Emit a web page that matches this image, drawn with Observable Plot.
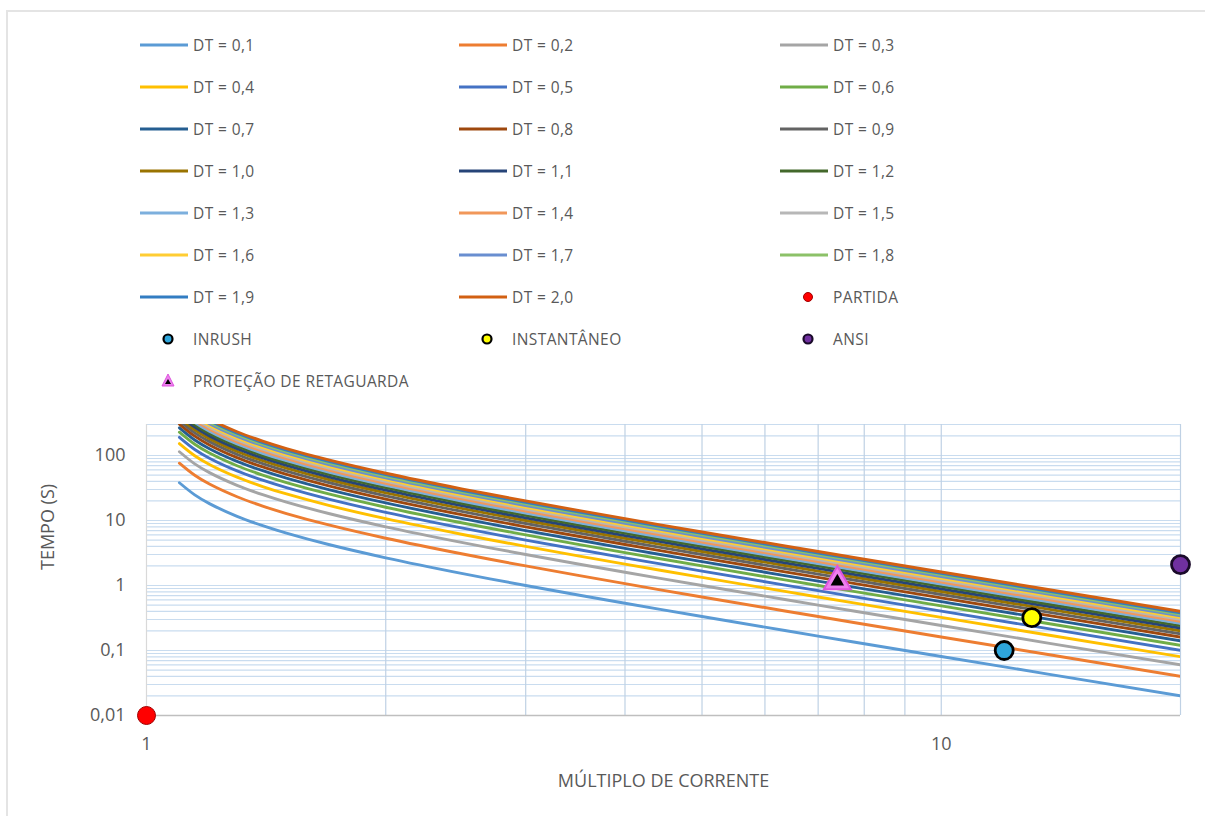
<!DOCTYPE html>
<html>
<head>
<meta charset="utf-8">
<script src="https://cdn.jsdelivr.net/npm/d3@7"></script>
<script src="https://cdn.jsdelivr.net/npm/@observablehq/plot@0.6"></script>
<style>
  body { margin: 0; background: #fff; font-family: "Open Sans", sans-serif; }
  #chart { position: relative; width: 1205px; height: 816px; overflow: hidden; background: #fff; }
  #frame { position: absolute; left: 6px; top: 10px; width: 1300px; height: 900px;
           border-left: 2px solid #e4e4e4; border-top: 2px solid #e4e4e4; }
  #legend { position: absolute; left: 0; top: 0; width: 1205px; height: 400px; }
  .item { position: absolute; height: 24px; }
  .item svg { position: absolute; top: 0; overflow: visible; }
  .item span { position: absolute; top: 0; line-height: 24px; font-size: 15.5px;
               letter-spacing: 0.4px; color: #595959; white-space: nowrap; }
  #plot { position: absolute; left: 0; top: 400px; }
</style>
</head>
<body>
<div id="chart">
  <div id="frame"></div>
  <div id="legend"></div>
  <div id="plot"></div>
</div>
<script>
// Current multiples (x) at which each time-dial curve is sampled
const multiples = [1.1, 1.15, 1.2, 1.3, 1.4, 1.5, 1.7, 2, 2.5, 3, 4, 5, 7, 10, 20];

// Operating time (s) of each curve at the multiples above
const dt01 = [38.1, 24.81, 18.18, 11.59, 8.333, 6.4, 4.233, 2.667, 1.524, 1.0, 0.5333, 0.3333, 0.1667, 0.0808, 0.0201];
const dt02 = [76.19, 49.61, 36.36, 23.19, 16.67, 12.8, 8.466, 5.333, 3.048, 2.0, 1.067, 0.6667, 0.3333, 0.1616, 0.0401];
const dt03 = [114.3, 74.42, 54.55, 34.78, 25.0, 19.2, 12.7, 8.0, 4.571, 3.0, 1.6, 1.0, 0.5, 0.2424, 0.0602];
const dt04 = [152.4, 99.22, 72.73, 46.38, 33.33, 25.6, 16.93, 10.67, 6.095, 4.0, 2.133, 1.333, 0.6667, 0.3232, 0.0802];
const dt05 = [190.5, 124.0, 90.91, 57.97, 41.67, 32.0, 21.16, 13.33, 7.619, 5.0, 2.667, 1.667, 0.8333, 0.404, 0.1003];
const dt06 = [228.6, 148.8, 109.1, 69.57, 50.0, 38.4, 25.4, 16.0, 9.143, 6.0, 3.2, 2.0, 1.0, 0.4848, 0.1203];
const dt07 = [266.7, 173.6, 127.3, 81.16, 58.33, 44.8, 29.63, 18.67, 10.67, 7.0, 3.733, 2.333, 1.167, 0.5657, 0.1404];
const dt08 = [304.8, 198.4, 145.5, 92.75, 66.67, 51.2, 33.86, 21.33, 12.19, 8.0, 4.267, 2.667, 1.333, 0.6465, 0.1604];
const dt09 = [342.9, 223.3, 163.6, 104.3, 75.0, 57.6, 38.1, 24.0, 13.71, 9.0, 4.8, 3.0, 1.5, 0.7273, 0.1805];
const dt10 = [381.0, 248.1, 181.8, 115.9, 83.33, 64.0, 42.33, 26.67, 15.24, 10.0, 5.333, 3.333, 1.667, 0.8081, 0.2005];
const dt11 = [419.0, 272.9, 200.0, 127.5, 91.67, 70.4, 46.56, 29.33, 16.76, 11.0, 5.867, 3.667, 1.833, 0.8889, 0.2206];
const dt12 = [457.1, 297.7, 218.2, 139.1, 100.0, 76.8, 50.79, 32.0, 18.29, 12.0, 6.4, 4.0, 2.0, 0.9697, 0.2406];
const dt13 = [495.2, 322.5, 236.4, 150.7, 108.3, 83.2, 55.03, 34.67, 19.81, 13.0, 6.933, 4.333, 2.167, 1.051, 0.2607];
const dt14 = [533.3, 347.3, 254.5, 162.3, 116.7, 89.6, 59.26, 37.33, 21.33, 14.0, 7.467, 4.667, 2.333, 1.131, 0.2807];
const dt15 = [571.4, 372.1, 272.7, 173.9, 125.0, 96.0, 63.49, 40.0, 22.86, 15.0, 8.0, 5.0, 2.5, 1.212, 0.3008];
const dt16 = [609.5, 396.9, 290.9, 185.5, 133.3, 102.4, 67.72, 42.67, 24.38, 16.0, 8.533, 5.333, 2.667, 1.293, 0.3208];
const dt17 = [647.6, 421.7, 309.1, 197.1, 141.7, 108.8, 71.96, 45.33, 25.9, 17.0, 9.067, 5.667, 2.833, 1.374, 0.3409];
const dt18 = [685.7, 446.5, 327.3, 208.7, 150.0, 115.2, 76.19, 48.0, 27.43, 18.0, 9.6, 6.0, 3.0, 1.455, 0.3609];
const dt19 = [723.8, 471.3, 345.5, 220.3, 158.3, 121.6, 80.42, 50.67, 28.95, 19.0, 10.13, 6.333, 3.167, 1.535, 0.381];
const dt20 = [761.9, 496.1, 363.6, 231.9, 166.7, 128.0, 84.66, 53.33, 30.48, 20.0, 10.67, 6.667, 3.333, 1.616, 0.401];

const curveNames = ["DT = 0,1", "DT = 0,2", "DT = 0,3", "DT = 0,4", "DT = 0,5", "DT = 0,6", "DT = 0,7",
  "DT = 0,8", "DT = 0,9", "DT = 1,0", "DT = 1,1", "DT = 1,2", "DT = 1,3", "DT = 1,4", "DT = 1,5",
  "DT = 1,6", "DT = 1,7", "DT = 1,8", "DT = 1,9", "DT = 2,0"];
const curveValues = [dt01, dt02, dt03, dt04, dt05, dt06, dt07, dt08, dt09, dt10,
  dt11, dt12, dt13, dt14, dt15, dt16, dt17, dt18, dt19, dt20];
const curveColors = ["#5b9bd5", "#ed7d31", "#a5a5a5", "#ffc000", "#4472c4", "#70ad47", "#255e91",
  "#9e480e", "#636363", "#997300", "#264478", "#43682b", "#7cafdd", "#f1975a", "#b7b7b7",
  "#ffcd33", "#698ed0", "#8cc168", "#327dc2", "#d26012"];

// Protection points
const pointNames = ["PARTIDA", "INRUSH", "INSTANTÂNEO", "ANSI", "PROTEÇÃO DE RETAGUARDA"];
const pointX = [1, 12, 13, 20, 7.4];
const pointY = [0.01, 0.1, 0.32, 2.1, 1.15];
const pointFill = ["#ff0000", "#2ea6dc", "#ffff00", "#7030a0", "#ee7fee"];
const pointStroke = ["#a00000", "#000000", "#000000", "#1a0a2a", "#dd55dd"];
const pointSymbol = ["circle", "circle", "circle", "circle", "triangle"];

// Axis ticks and log gridlines
const xTicks = [1, 10];
const yTicks = [0.01, 0.1, 1, 10, 100];
const xGrid = [2, 3, 4, 5, 6, 7, 8, 9, 10, 20];
const yGrid = [0.02, 0.03, 0.04, 0.05, 0.06, 0.07, 0.08, 0.09, 0.1,
  0.2, 0.3, 0.4, 0.5, 0.6, 0.7, 0.8, 0.9, 1,
  2, 3, 4, 5, 6, 7, 8, 9, 10,
  20, 30, 40, 50, 60, 70, 80, 90, 100, 200, 300];

// Long table for the curves
const curveRows = curveNames.flatMap((name, i) =>
  multiples.map((m, j) => ({name, color: curveColors[i], m, t: curveValues[i][j]})));
const pointRows = pointNames.map((name, i) => ({
  name, x: pointX[i], y: pointY[i], fill: pointFill[i], stroke: pointStroke[i], symbol: pointSymbol[i]
}));

// ---------- legend (three columns, above the plot) ----------
const legend = document.getElementById("legend");
const colX = [140, 459, 780];
const legendItems = [
  ...curveNames.map((name, i) => ({name, kind: "line", color: curveColors[i]})),
  ...pointRows.map(p => ({name: p.name, kind: p.symbol, fill: p.fill, stroke: p.stroke}))
];
const ns = "http://www.w3.org/2000/svg";
legendItems.forEach((it, i) => {
  const col = i % 3, row = Math.floor(i / 3);
  const div = document.createElement("div");
  div.className = "item";
  div.style.left = colX[col] + "px";
  div.style.top = (45 + 42 * row - 12) + "px";
  const svg = document.createElementNS(ns, "svg");
  svg.setAttribute("width", 50);
  svg.setAttribute("height", 24);
  if (it.kind === "line") {
    const l = document.createElementNS(ns, "line");
    l.setAttribute("x1", 0); l.setAttribute("x2", 48);
    l.setAttribute("y1", 12); l.setAttribute("y2", 12);
    l.setAttribute("stroke", it.color); l.setAttribute("stroke-width", 3);
    svg.appendChild(l);
  } else if (it.kind === "circle") {
    const c = document.createElementNS(ns, "circle");
    c.setAttribute("cx", 28); c.setAttribute("cy", 12); c.setAttribute("r", 4.5);
    c.setAttribute("fill", it.fill); c.setAttribute("stroke", it.stroke);
    c.setAttribute("stroke-width", it.name === "PARTIDA" ? 1 : 2.2);
    svg.appendChild(c);
  } else {
    const p = document.createElementNS(ns, "path");
    p.setAttribute("d", "M28,5L34,17L22,17Z");
    p.setAttribute("fill", it.fill); p.setAttribute("stroke", it.stroke);
    const q = document.createElementNS(ns, "path");
    q.setAttribute("d", "M28,10L31,15L25,15Z");
    q.setAttribute("fill", "#000");
    svg.appendChild(p); svg.appendChild(q);
  }
  div.appendChild(svg);
  const span = document.createElement("span");
  span.style.left = "53px";
  span.textContent = it.name;
  div.appendChild(span);
  legend.appendChild(div);
});

// ---------- plot ----------
const plot = Plot.plot({
  width: 1205,
  height: 416,
  marginLeft: 146,
  marginRight: 25,
  marginTop: 24,
  marginBottom: 101,
  style: {fontFamily: "'Open Sans', sans-serif", color: "#595959", background: "transparent"},
  x: {type: "log", domain: [1, 20]},
  y: {type: "log", domain: [0.01, 300]},
  color: {type: "identity"},
  marks: [
    Plot.ruleY(yGrid, {stroke: "#c9dcef", strokeWidth: 1.2}),
    Plot.ruleX(xGrid, {stroke: "#bfd1e4", strokeWidth: 1.2}),
    Plot.ruleX([1], {stroke: "#d9d9d9", strokeWidth: 1.2}),
    Plot.ruleY([0.01], {stroke: "#bfbfbf", strokeWidth: 1.3}),
    Plot.axisX({ticks: xTicks, tickSize: 0, tickPadding: 22, fontSize: 18,
      tickFormat: d => String(d), label: null}),
    Plot.axisY({ticks: yTicks, tickSize: 0, tickPadding: 21, fontSize: 18,
      tickFormat: d => String(d).replace(".", ","), label: null}),
    Plot.line(curveRows, {x: "m", y: "t", z: "name", stroke: "color", strokeWidth: 2.9,
      curve: "catmull-rom", clip: true}),
    Plot.dot(pointRows.filter(p => p.symbol === "circle"), {x: "x", y: "y", r: 9,
      fill: "fill", stroke: "stroke", strokeWidth: d => d.name === "PARTIDA" ? 1 : 2.8}),
    Plot.dot(pointRows.filter(p => p.symbol === "triangle"), {x: "x", y: "y", r: 10,
      symbol: "triangle", fill: "fill", stroke: "stroke", strokeWidth: 2}),
    Plot.dot(pointRows.filter(p => p.symbol === "triangle"), {x: "x", y: "y", r: 5,
      symbol: "triangle", fill: "#000", stroke: "none"}),
    Plot.text(["TEMPO (S)"], {frameAnchor: "left", dx: -98, rotate: -90, fontSize: 18, fill: "#595959"}),
    Plot.text(["MÚLTIPLO DE CORRENTE"], {frameAnchor: "bottom", dy: 71, fontSize: 18, fill: "#595959"})
  ]
});
document.getElementById("plot").appendChild(plot);
</script>
</body>
</html>
